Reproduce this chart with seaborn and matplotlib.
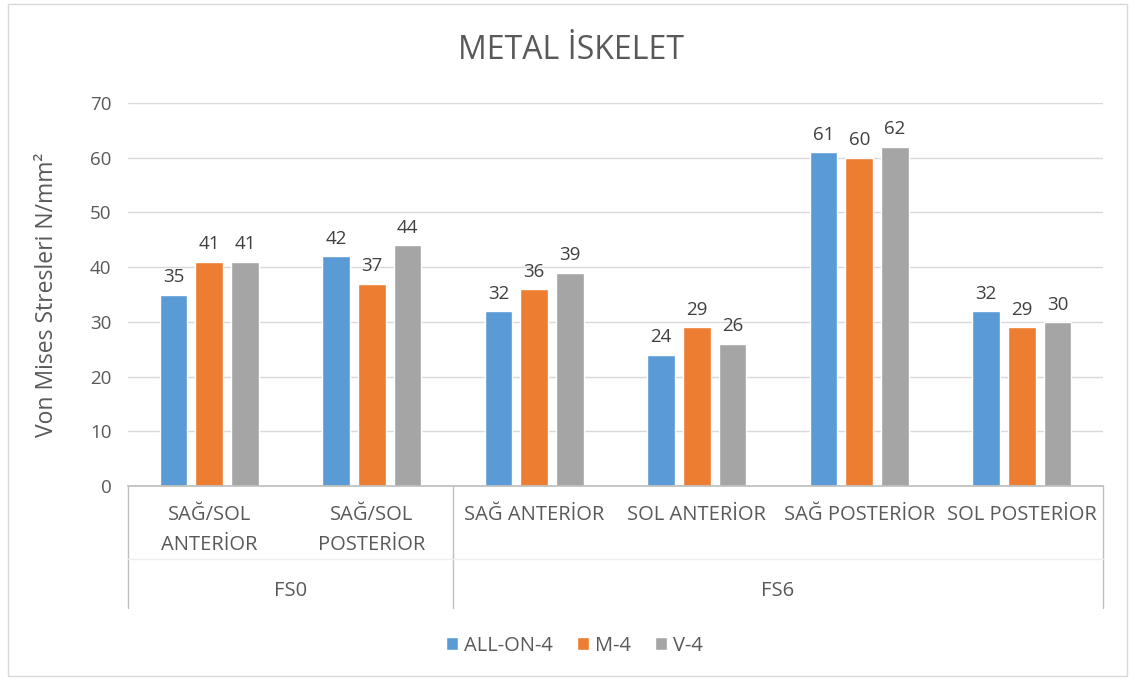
import pandas as pd
import matplotlib.pyplot as plt
import seaborn as sns
from matplotlib.patches import Rectangle

# data
categories = ['SAĞ/SOL\nANTERİOR', 'SAĞ/SOL\nPOSTERİOR', 'SAĞ ANTERİOR',
              'SOL ANTERİOR', 'SAĞ POSTERİOR', 'SOL POSTERİOR']
groups = ['FS0', 'FS6']
group_sizes = [2, 4]
series = ['ALL-ON-4', 'M-4', 'V-4']
all_on_4 = [35, 42, 32, 24, 61, 32]
m_4 = [41, 37, 36, 29, 60, 29]
v_4 = [41, 44, 39, 26, 62, 30]
colors = ['#5B9BD5', '#ED7D31', '#A5A5A5']

rows = []
for name, vals in zip(series, [all_on_4, m_4, v_4]):
    for c, v in zip(categories, vals):
        rows.append({'cat': c, 'series': name, 'value': v})
df = pd.DataFrame(rows)

sns.set_theme(style='white')
plt.rcParams['font.family'] = ['Open Sans', 'DejaVu Sans']
txt = '#595959'

fig = plt.figure(figsize=(11.35, 6.8), dpi=100)
ax = fig.add_axes([0.1128, 0.2853, 0.859, 0.5632])

sns.barplot(data=df, x='cat', y='value', hue='series', order=categories,
            hue_order=series, palette=colors, width=0.66, gap=0.22,
            saturation=1, ax=ax)

for cont in ax.containers:
    ax.bar_label(cont, fontsize=13.5, color='#404040', padding=6)

ax.set_ylim(0, 70)
ax.set_yticks(range(0, 71, 10))
ax.set_xlim(-0.5, len(categories) - 0.5)
ax.yaxis.grid(True, color='#D9D9D9', linewidth=1)
ax.set_axisbelow(True)
for s in ['top', 'right', 'left']:
    ax.spines[s].set_visible(False)
ax.spines['bottom'].set_color('#BFBFBF')
ax.tick_params(axis='y', length=0, labelsize=13.5, labelcolor=txt, pad=12)
ax.tick_params(axis='x', length=0, labelsize=14.5, labelcolor=txt, pad=14)
ax.set_xticks(range(len(categories)))
ax.set_xticklabels(categories, va='top', linespacing=1.65)
ax.set_xlabel('')
ax.set_ylabel('Von Mises Stresleri N/mm²', fontsize=16.5, color=txt, labelpad=22)
fig.suptitle('METAL İSKELET', fontsize=23, color=txt, x=0.503, y=0.95)

# multi-level category axis
trans = ax.get_xaxis_transform()
line_kw = dict(color='#BFBFBF', linewidth=1, transform=trans, clip_on=False)
edges = [-0.5]
for n in group_sizes:
    edges.append(edges[-1] + n)
for e in edges:
    ax.plot([e, e], [0, -0.318], **line_kw)
ax.plot([-0.5, len(categories) - 0.5], [-0.19, -0.19], color='#EEEEEE',
        linewidth=1, transform=trans, clip_on=False)
for g, a, b in zip(groups, edges[:-1], edges[1:]):
    ax.text((a + b) / 2, -0.275, g, transform=trans, ha='center', va='center',
            fontsize=14.5, color=txt)

ax.legend(loc='upper center', bbox_to_anchor=(0.506, 0.092),
          bbox_transform=fig.transFigure, ncol=3,
          frameon=False, fontsize=14.5, handlelength=0.6, handleheight=0.6,
          handletextpad=0.3, columnspacing=1.2, labelcolor=txt)

fig.patches.append(Rectangle((0.007, 0.006), 0.986, 0.988, transform=fig.transFigure,
                             fill=False, edgecolor='#D9D9D9', linewidth=1))

plt.savefig('out.png', dpi=100)
